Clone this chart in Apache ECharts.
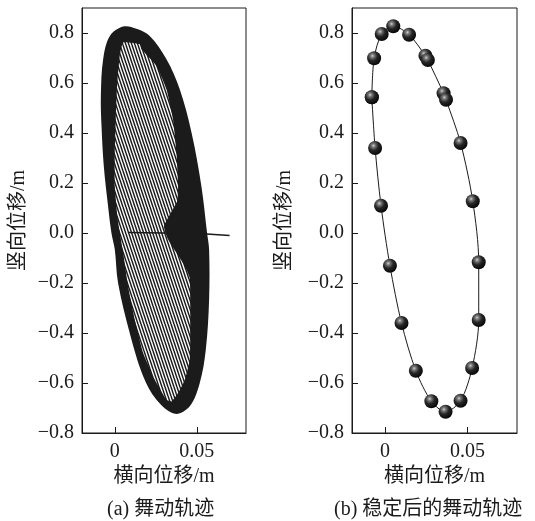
<!DOCTYPE html>
<html>
<head>
<meta charset="utf-8">
<script src="https://cdn.jsdelivr.net/npm/echarts@6/dist/echarts.min.js"></script>
<style>
html,body{margin:0;padding:0;background:#fff;}
#main{width:535px;height:521px;}
</style>
</head>
<body>
<div id="main"></div>
<script>
// ---- data ----
// (a) outer envelope of the galloping trajectory (x m, y m)
var outerX = [0.0051, 0.0132, 0.0213, 0.0315, 0.0396, 0.0468, 0.0528, 0.0563, 0.0575, 0.0575, 0.0555, 0.0518, 0.0457, 0.0366, 0.0254, 0.0173, 0.0091, 0.002, 0.0, -0.002, -0.0041, -0.0067, -0.0081, -0.0085, -0.0071, -0.003];
var outerY = [0.826, 0.817, 0.788, 0.695, 0.575, 0.401, 0.187, -0.002, -0.066, -0.266, -0.466, -0.6, -0.693, -0.723, -0.667, -0.573, -0.4, -0.2, -0.066, -0.002, 0.107, 0.267, 0.428, 0.548, 0.695, 0.788];
// (a) inner, lighter (line-hatched) zone of the trajectory
var hatchX = [0.0051, 0.0152, 0.0163, 0.0254, 0.0315, 0.0355, 0.0376, 0.0386, 0.0380, 0.0300, 0.0325, 0.0376, 0.0427, 0.0457, 0.0460, 0.0460, 0.0457, 0.0427, 0.0386, 0.0346, 0.0315, 0.0244, 0.0173, 0.0122, 0.0081, 0.0051, 0.0018, 0.0, 0.0, 0.0006, 0.0014, 0.003];
var hatchY = [0.7616, 0.7548, 0.7347, 0.6679, 0.5746, 0.4545, 0.3211, 0.1874, 0.1273, 0.0272, -0.026, -0.0793, -0.1329, -0.180, -0.2795, -0.4132, -0.5065, -0.5866, -0.6398, -0.6735, -0.6667, -0.5866, -0.4797, -0.3463, -0.213, -0.0793, 0.054, 0.1874, 0.3211, 0.4545, 0.5878, 0.7079];
// (a) initial horizontal transient near y = 0
var startX = [0.008, 0.040, 0.056, 0.070];
var startY = [0.002, -0.001, -0.004, -0.010];
// (b) stable galloping orbit, sampled points (balls)
var orbitX = [-0.008, -0.0066, -0.002, 0.005, 0.0146, 0.0245, 0.026, 0.0355, 0.037, 0.0458, 0.0532, 0.0568, 0.0568, 0.0528, 0.0458, 0.0367, 0.0281, 0.0187, 0.010, 0.003, -0.0024, -0.006];
var orbitY = [0.543, 0.699, 0.796, 0.827, 0.793, 0.709, 0.692, 0.559, 0.533, 0.36, 0.127, -0.117, -0.348, -0.54, -0.671, -0.715, -0.673, -0.551, -0.36, -0.131, 0.109, 0.34];
// axis ticks
var yTicks = [-0.8, -0.6, -0.4, -0.2, 0.0, 0.2, 0.4, 0.6, 0.8];
var xTicks = [0, 0.05];
var yName = '竖向位移/m';
var xName = '横向位移/m';
var captions = ['(a) 舞动轨迹', '(b) 稳定后的舞动轨迹'];

function zip(a, b) { return a.map(function (v, i) { return [v, b[i]]; }); }
var outerPts = zip(outerX, outerY);
var hatchPts = zip(hatchX, hatchY);
var startPts = zip(startX, startY);
var orbitPts = zip(orbitX, orbitY);
var orbitClosed = orbitPts.concat([orbitPts[0]]);

// hatch pattern
var pc = document.createElement('canvas');
pc.width = 3; pc.height = 9;
var ctx = pc.getContext('2d');
ctx.fillStyle = '#ffffff'; ctx.fillRect(0, 0, 3, 9);
ctx.strokeStyle = '#1b1b1b'; ctx.lineWidth = 1.5;
ctx.beginPath();
for (var k = -1; k <= 1; k++) { ctx.moveTo(k * 3, 0); ctx.lineTo(k * 3 + 3, 9); }
ctx.stroke();

var serif = "'Liberation Serif', 'Noto Sans CJK SC', serif";
var FS = 20;
var NFS = 20;
var BLACK = '#1b1b1b';

function yLabel(v) { return (v < 0 ? '\u2212' : '') + Math.abs(v).toFixed(1); }
function xLabel(v) { return v === 0 ? '0' : v.toFixed(2); }

function mkX(idx) {
  return {
    type: 'value', gridIndex: idx, min: -0.02, max: 0.08,
    name: xName, nameLocation: 'middle', nameGap: 34,
    nameTextStyle: { fontFamily: serif, fontSize: NFS, color: BLACK },
    axisLine: { show: true, onZero: false, lineStyle: { color: BLACK, width: 1 } },
    axisTick: { show: true, inside: true, length: 6, customValues: xTicks, lineStyle: { color: BLACK } },
    axisLabel: { customValues: xTicks, formatter: xLabel, fontFamily: serif, fontSize: FS, color: BLACK, margin: 9 },
    splitLine: { show: false }
  };
}
function mkY(idx, gap) {
  return {
    type: 'value', gridIndex: idx, min: -0.8, max: 0.9, interval: 0.2,
    name: yName, nameLocation: 'middle', nameGap: gap, nameRotate: 90,
    nameTextStyle: { fontFamily: serif, fontSize: NFS, color: BLACK },
    axisLine: { show: true, onZero: false, lineStyle: { color: BLACK, width: 1 } },
    axisTick: { show: true, inside: true, length: 6, lineStyle: { color: BLACK } },
    axisLabel: { formatter: yLabel, fontFamily: serif, fontSize: FS, color: BLACK, margin: 8, showMaxLabel: false },
    splitLine: { show: false }
  };
}

function polySeries(pts, fill, z, sm) {
  return {
    type: 'custom', xAxisIndex: 0, yAxisIndex: 0, z: z, silent: true,
    data: [[0, 0]],
    renderItem: function (params, api) {
      return {
        type: 'polygon',
        shape: { points: pts.map(function (p) { return api.coord(p); }), smooth: sm },
        style: { fill: fill, stroke: null }
      };
    }
  };
}

var chart = echarts.init(document.getElementById('main'), null, { renderer: 'canvas' });
chart.setOption({
  animation: false,
  backgroundColor: '#fff',
  grid: [
    { left: 82, top: 8, width: 164, height: 425, show: true, borderColor: BLACK, borderWidth: 1, backgroundColor: 'transparent' },
    { left: 352, top: 8, width: 165, height: 425, show: true, borderColor: BLACK, borderWidth: 1, backgroundColor: 'transparent' }
  ],
  xAxis: [mkX(0), mkX(1)],
  yAxis: [mkY(0, 53), mkY(1, 57)],
  series: [
    polySeries(outerPts, BLACK, 1, 0.35),
    polySeries(hatchPts, { image: pc, repeat: 'repeat' }, 2, 0.15),
    {
      type: 'line', xAxisIndex: 0, yAxisIndex: 0, data: startPts, z: 3,
      showSymbol: false, symbol: 'none', lineStyle: { color: BLACK, width: 1.6 }
    },
    {
      type: 'line', xAxisIndex: 1, yAxisIndex: 1, data: orbitClosed, smooth: 0.3, z: 3,
      symbol: 'circle', symbolSize: 14, showAllSymbol: true,
      lineStyle: { color: BLACK, width: 1 },
      itemStyle: {
        color: {
          type: 'radial', x: 0.38, y: 0.33, r: 0.7,
          colorStops: [
            { offset: 0, color: '#d0d0d0' },
            { offset: 0.18, color: '#7a7a7a' },
            { offset: 0.5, color: '#262626' },
            { offset: 1, color: '#050505' }
          ]
        },
        borderWidth: 0
      }
    }
  ],
  graphic: [
    { type: 'text', left: 107, top: 500, style: { text: captions[0], font: '20px ' + serif, fill: BLACK } },
    { type: 'text', left: 334, top: 500, style: { text: captions[1], font: '20px ' + serif, fill: BLACK } }
  ]
});
</script>
</body>
</html>
